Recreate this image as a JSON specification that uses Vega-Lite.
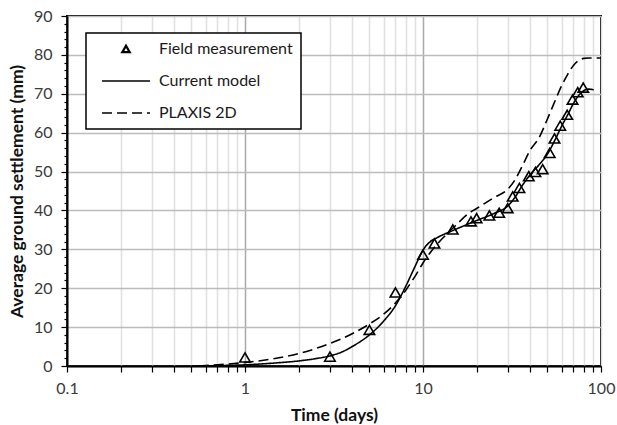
{
  "$schema": "https://vega.github.io/schema/vega-lite/v6.json",
  "width": 534,
  "height": 350,
  "autosize": "none",
  "padding": {"left": 67, "top": 16, "right": 16, "bottom": 59},
  "background": "white",
  "config": {
    "font": "Lato",
    "view": {"stroke": "black", "strokeWidth": 2},
    "axis": {
      "domainColor": "black",
      "domainWidth": 2,
      "tickColor": "black",
      "tickWidth": 1.2,
      "labelFontSize": 16,
      "labelColor": "#3a3a3a",
      "titleFontSize": 17.5,
      "titleFontWeight": "bold",
      "titleColor": "#111",
      "labelFlush": false,
      "labelOverlap": false,
      "labelBound": false
    }
  },
  "datasets": {
    "d": [
      {"series": "Field measurement", "t": 1, "s": 2.2},
      {"series": "Field measurement", "t": 3, "s": 2.4},
      {"series": "Field measurement", "t": 5, "s": 9.3},
      {"series": "Field measurement", "t": 7, "s": 18.9},
      {"series": "Field measurement", "t": 10, "s": 28.6},
      {"series": "Field measurement", "t": 11.6, "s": 31.5},
      {"series": "Field measurement", "t": 14.7, "s": 35.1},
      {"series": "Field measurement", "t": 18.6, "s": 37.2},
      {"series": "Field measurement", "t": 20, "s": 38},
      {"series": "Field measurement", "t": 23.6, "s": 38.7},
      {"series": "Field measurement", "t": 26.8, "s": 39.4},
      {"series": "Field measurement", "t": 29.9, "s": 40.6},
      {"series": "Field measurement", "t": 31.9, "s": 43.6},
      {"series": "Field measurement", "t": 34.8, "s": 45.8},
      {"series": "Field measurement", "t": 39.3, "s": 48.8},
      {"series": "Field measurement", "t": 42.8, "s": 49.9},
      {"series": "Field measurement", "t": 47, "s": 50.6},
      {"series": "Field measurement", "t": 51.5, "s": 54.8},
      {"series": "Field measurement", "t": 54.8, "s": 58.5},
      {"series": "Field measurement", "t": 59, "s": 61.8},
      {"series": "Field measurement", "t": 64.6, "s": 64.6},
      {"series": "Field measurement", "t": 69.2, "s": 68.5},
      {"series": "Field measurement", "t": 74, "s": 70.4},
      {"series": "Field measurement", "t": 79.5, "s": 71.6},
      {"series": "Current model", "t": 0.5, "s": 0},
      {"series": "Current model", "t": 0.7, "s": 0.1},
      {"series": "Current model", "t": 1, "s": 0.3},
      {"series": "Current model", "t": 1.5, "s": 0.8},
      {"series": "Current model", "t": 2, "s": 1.3},
      {"series": "Current model", "t": 2.5, "s": 1.9},
      {"series": "Current model", "t": 3, "s": 2.6},
      {"series": "Current model", "t": 3.5, "s": 3.6},
      {"series": "Current model", "t": 4, "s": 5},
      {"series": "Current model", "t": 5, "s": 8},
      {"series": "Current model", "t": 6, "s": 11.5},
      {"series": "Current model", "t": 7, "s": 15.5},
      {"series": "Current model", "t": 8, "s": 20.5},
      {"series": "Current model", "t": 9, "s": 25.5},
      {"series": "Current model", "t": 10, "s": 29.8},
      {"series": "Current model", "t": 11, "s": 32},
      {"series": "Current model", "t": 12, "s": 33},
      {"series": "Current model", "t": 15, "s": 35},
      {"series": "Current model", "t": 20, "s": 37.4},
      {"series": "Current model", "t": 25, "s": 39.2},
      {"series": "Current model", "t": 30, "s": 41.2},
      {"series": "Current model", "t": 33, "s": 43.5},
      {"series": "Current model", "t": 36, "s": 46.3},
      {"series": "Current model", "t": 40, "s": 49.2},
      {"series": "Current model", "t": 45, "s": 51.8},
      {"series": "Current model", "t": 50, "s": 54.5},
      {"series": "Current model", "t": 55, "s": 58},
      {"series": "Current model", "t": 60, "s": 61.6},
      {"series": "Current model", "t": 65, "s": 64.6},
      {"series": "Current model", "t": 70, "s": 67.5},
      {"series": "Current model", "t": 75, "s": 69.6},
      {"series": "Current model", "t": 80, "s": 70.8},
      {"series": "Current model", "t": 85, "s": 71.2},
      {"series": "Current model", "t": 91, "s": 71},
      {"series": "PLAXIS 2D", "t": 0.55, "s": 0},
      {"series": "PLAXIS 2D", "t": 0.7, "s": 0.3},
      {"series": "PLAXIS 2D", "t": 0.8, "s": 0.5},
      {"series": "PLAXIS 2D", "t": 1, "s": 0.9},
      {"series": "PLAXIS 2D", "t": 1.5, "s": 2},
      {"series": "PLAXIS 2D", "t": 2, "s": 3.2},
      {"series": "PLAXIS 2D", "t": 3, "s": 5.8},
      {"series": "PLAXIS 2D", "t": 4, "s": 8.3},
      {"series": "PLAXIS 2D", "t": 5, "s": 10.8},
      {"series": "PLAXIS 2D", "t": 6, "s": 13.3},
      {"series": "PLAXIS 2D", "t": 7, "s": 16.2},
      {"series": "PLAXIS 2D", "t": 8, "s": 19.5},
      {"series": "PLAXIS 2D", "t": 9, "s": 23},
      {"series": "PLAXIS 2D", "t": 10, "s": 26.5},
      {"series": "PLAXIS 2D", "t": 11, "s": 29.2},
      {"series": "PLAXIS 2D", "t": 12, "s": 31.3},
      {"series": "PLAXIS 2D", "t": 15, "s": 35.8},
      {"series": "PLAXIS 2D", "t": 18, "s": 39.2},
      {"series": "PLAXIS 2D", "t": 20, "s": 40.5},
      {"series": "PLAXIS 2D", "t": 25, "s": 43.3},
      {"series": "PLAXIS 2D", "t": 30, "s": 45.5},
      {"series": "PLAXIS 2D", "t": 33, "s": 48},
      {"series": "PLAXIS 2D", "t": 36, "s": 51.3},
      {"series": "PLAXIS 2D", "t": 40, "s": 55.5},
      {"series": "PLAXIS 2D", "t": 45, "s": 58.8},
      {"series": "PLAXIS 2D", "t": 50, "s": 63.5},
      {"series": "PLAXIS 2D", "t": 55, "s": 68},
      {"series": "PLAXIS 2D", "t": 60, "s": 72},
      {"series": "PLAXIS 2D", "t": 65, "s": 75},
      {"series": "PLAXIS 2D", "t": 70, "s": 77.3},
      {"series": "PLAXIS 2D", "t": 75, "s": 78.6},
      {"series": "PLAXIS 2D", "t": 80, "s": 79.1},
      {"series": "PLAXIS 2D", "t": 85, "s": 79.2},
      {"series": "PLAXIS 2D", "t": 100, "s": 79.2}
    ]
  },
  "data": {"name": "d"},
  "encoding": {
    "x": {
      "field": "t",
      "type": "quantitative",
      "scale": {"type": "log", "domain": [0.1, 100], "nice": false},
      "axis": {
        "title": "Time (days)",
        "values": [0.1, 0.2, 0.3, 0.4, 0.5, 0.6, 0.7, 0.8, 0.9, 1, 2, 3, 4, 5, 6, 7, 8, 9, 10, 20, 30, 40, 50, 60, 70, 80, 90, 100],
        "labelExpr": "(datum.value == 0.1 || datum.value == 1 || datum.value == 10 || datum.value == 100) ? datum.label : ''",
        "grid": true,
        "gridColor": {"condition": {"test": "datum.value == 1 || datum.value == 10", "value": "#a9a9a9"}, "value": "#e0e0e0"},
        "gridWidth": 1.5,
        "tickSize": 6,
        "labelPadding": 8,
        "titlePadding": 10
      }
    },
    "y": {
      "field": "s",
      "type": "quantitative",
      "scale": {"domain": [0, 90], "nice": false},
      "axis": {
        "title": "Average ground settlement (mm)",
        "values": [0, 2, 4, 6, 8, 10, 12, 14, 16, 18, 20, 22, 24, 26, 28, 30, 32, 34, 36, 38, 40, 42, 44, 46, 48, 50, 52, 54, 56, 58, 60, 62, 64, 66, 68, 70, 72, 74, 76, 78, 80, 82, 84, 86, 88, 90],
        "labelExpr": "datum.value % 10 == 0 ? datum.label : ''",
        "grid": true,
        "gridColor": "#bcbcbc",
        "gridWidth": 1.5,
        "gridOpacity": {"condition": {"test": "datum.value % 10 == 0", "value": 1}, "value": 0},
        "tickSize": {"condition": {"test": "datum.value % 10 == 0", "value": 6}, "value": 3},
        "labelPadding": 9,
        "titlePadding": 7
      }
    },
    "color": {
      "field": "series",
      "type": "nominal",
      "scale": {"domain": ["Field measurement", "Current model", "PLAXIS 2D"], "range": ["black", "black", "black"]},
      "legend": {
        "title": null,
        "orient": "none",
        "legendX": 19,
        "legendY": 17,
        "padding": 8,
        "symbolOffset": 24,
        "strokeColor": "black",
        "fillColor": "white",
        "labelFontSize": 16,
        "labelColor": "#1a1a1a",
        "labelOffset": 25,
        "rowPadding": 16,
        "symbolSize": 2300,
        "symbolStrokeWidth": 1.5,
        "symbolFillColor": "transparent",
        "symbolStrokeColor": "black",
        "encode": {
          "legend": {"update": {"strokeWidth": {"value": 1.5}}},
          "symbols": {
            "update": {
              "size": {"signal": "datum.value == 'Field measurement' ? 55 : 2300"},
              "strokeWidth": {"signal": "datum.value == 'Field measurement' ? 2.2 : 1.5"}
            }
          }
        }
      }
    }
  },
  "layer": [
    {
      "transform": [{"filter": "datum.series != 'Field measurement'"}],
      "mark": {"type": "line", "interpolate": "monotone", "strokeWidth": 1.6},
      "encoding": {
        "strokeDash": {
          "field": "series",
          "type": "nominal",
          "scale": {"domain": ["Field measurement", "Current model", "PLAXIS 2D"], "range": [[1, 0], [1, 0], [10, 5]]},
          "legend": null
        }
      }
    },
    {
      "transform": [{"filter": "datum.series == 'Field measurement'"}],
      "mark": {"type": "point", "filled": false, "size": 110, "strokeWidth": 1.6, "opacity": 1},
      "encoding": {
        "shape": {
          "field": "series",
          "type": "nominal",
          "scale": {"domain": ["Field measurement", "Current model", "PLAXIS 2D"], "range": ["triangle-up", "stroke", "stroke"]},
          "legend": null
        }
      }
    }
  ]
}
